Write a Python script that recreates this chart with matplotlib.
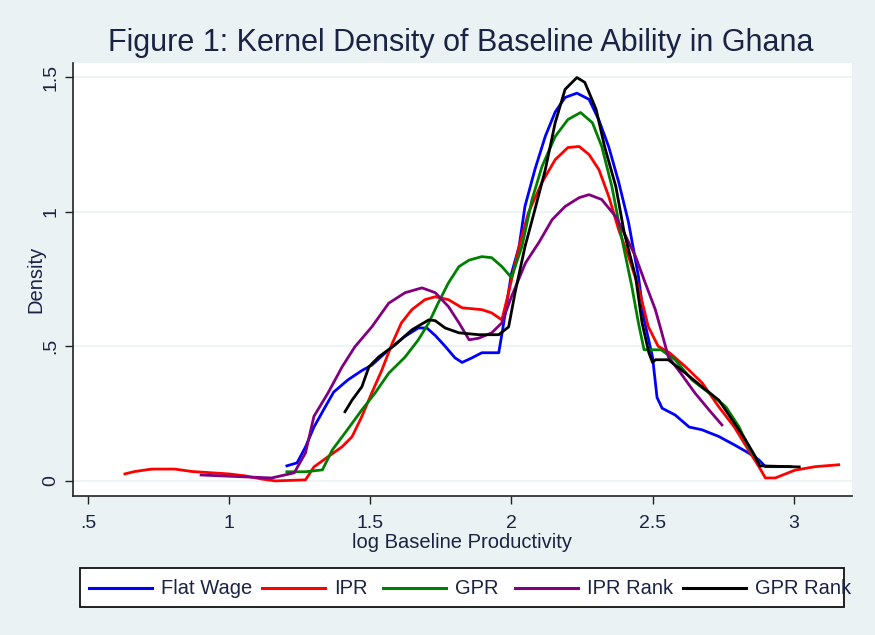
import matplotlib
matplotlib.use('Agg')
import matplotlib.pyplot as plt
from matplotlib.lines import Line2D
from matplotlib.patches import Rectangle

plt.rcParams['font.family'] = ['Liberation Sans', 'DejaVu Sans']

# --- data (log baseline productivity, density) ---
flat_x = [1.204, 1.24, 1.27, 1.30, 1.34, 1.37, 1.42, 1.47, 1.505, 1.565, 1.62, 1.67, 1.70,
          1.73, 1.765, 1.80, 1.825, 1.86, 1.895, 1.955, 1.97, 2.0, 2.027, 2.048, 2.083, 2.12,
          2.155, 2.19, 2.232, 2.275, 2.31, 2.345, 2.38, 2.415, 2.45, 2.47, 2.50, 2.516, 2.534,
          2.58, 2.63, 2.675, 2.735, 2.79, 2.84, 2.877, 2.90, 2.99]
flat_y = [0.056, 0.067, 0.126, 0.20, 0.275, 0.33, 0.375, 0.41, 0.43, 0.487, 0.535, 0.568, 0.568,
          0.54, 0.50, 0.457, 0.44, 0.457, 0.476, 0.476, 0.57, 0.77, 0.87, 1.02, 1.156, 1.28,
          1.37, 1.424, 1.44, 1.417, 1.34, 1.24, 1.11, 0.96, 0.76, 0.60, 0.46, 0.31, 0.27,
          0.245, 0.20, 0.19, 0.165, 0.134, 0.104, 0.078, 0.053, 0.053]

ipr_x = [0.63, 0.665, 0.725, 0.807, 0.867, 0.94, 0.998, 1.055, 1.115, 1.163, 1.27, 1.30, 1.35,
         1.40, 1.435, 1.47, 1.505, 1.54, 1.577, 1.61, 1.647, 1.693, 1.73, 1.777, 1.825, 1.895,
         1.93, 1.966, 1.99, 2.027, 2.06, 2.108, 2.155, 2.20, 2.24, 2.275, 2.31, 2.345, 2.38,
         2.415, 2.45, 2.485, 2.52, 2.56, 2.617, 2.676, 2.735, 2.79, 2.84, 2.877, 2.90, 2.935,
         3.005, 3.077, 3.16]
ipr_y = [0.026, 0.035, 0.044, 0.044, 0.035, 0.03, 0.026, 0.019, 0.007, 0.0, 0.004, 0.052, 0.09,
         0.127, 0.164, 0.24, 0.327, 0.41, 0.51, 0.587, 0.636, 0.673, 0.684, 0.673, 0.643, 0.636,
         0.624, 0.598, 0.70, 0.87, 0.996, 1.108, 1.193, 1.238, 1.242, 1.212, 1.156, 1.056, 0.933,
         0.833, 0.72, 0.573, 0.50, 0.476, 0.424, 0.364, 0.275, 0.20, 0.115, 0.053, 0.011, 0.011,
         0.04, 0.053, 0.06]

gpr_x = [1.204, 1.27, 1.33, 1.365, 1.41, 1.47, 1.517, 1.565, 1.623, 1.67, 1.707, 1.74, 1.777,
         1.814, 1.85, 1.895, 1.93, 1.966, 2.0, 2.037, 2.073, 2.108, 2.155, 2.20, 2.245, 2.287,
         2.32, 2.356, 2.39, 2.427, 2.45, 2.47, 2.53, 2.58, 2.64, 2.70, 2.76, 2.807, 2.84, 2.877]
gpr_y = [0.034, 0.034, 0.041, 0.115, 0.178, 0.264, 0.327, 0.40, 0.46, 0.524, 0.587, 0.66, 0.736,
         0.796, 0.82, 0.833, 0.829, 0.796, 0.755, 0.87, 1.045, 1.167, 1.279, 1.342, 1.368, 1.33,
         1.242, 1.093, 0.907, 0.72, 0.587, 0.487, 0.487, 0.45, 0.375, 0.327, 0.275, 0.20, 0.126,
         0.067]

ipr_rank_x = [0.90, 1.055, 1.15, 1.23, 1.27, 1.30, 1.35, 1.40, 1.445, 1.505, 1.565, 1.623, 1.683,
              1.73, 1.777, 1.814, 1.85, 1.884, 1.93, 1.966, 2.0, 2.05, 2.097, 2.144, 2.19, 2.24,
              2.275, 2.32, 2.37, 2.40, 2.44, 2.47, 2.51, 2.53, 2.556, 2.60, 2.65, 2.70, 2.746]
ipr_rank_y = [0.022, 0.015, 0.011, 0.03, 0.104, 0.24, 0.327, 0.424, 0.498, 0.572, 0.66, 0.699,
              0.717, 0.699, 0.647, 0.587, 0.524, 0.53, 0.55, 0.587, 0.684, 0.81, 0.885, 0.97,
              1.019, 1.052, 1.063, 1.045, 0.981, 0.92, 0.833, 0.747, 0.636, 0.561, 0.461, 0.40,
              0.327, 0.264, 0.208]

gpr_rank_x = [1.41, 1.435, 1.47, 1.495, 1.53, 1.587, 1.647, 1.707, 1.73, 1.765, 1.814, 1.884,
              1.955, 1.99, 2.013, 2.048, 2.083, 2.12, 2.155, 2.19, 2.232, 2.26, 2.30, 2.33, 2.37,
              2.40, 2.44, 2.463, 2.487, 2.5, 2.51, 2.556, 2.617, 2.675, 2.735, 2.79, 2.83, 2.865,
              2.88, 3.02]
gpr_rank_y = [0.257, 0.30, 0.35, 0.424, 0.461, 0.505, 0.561, 0.598, 0.595, 0.568, 0.55, 0.543,
              0.543, 0.572, 0.70, 0.87, 1.007, 1.156, 1.33, 1.454, 1.498, 1.48, 1.38, 1.242, 1.093,
              0.92, 0.758, 0.587, 0.476, 0.44, 0.45, 0.45, 0.40, 0.35, 0.30, 0.215, 0.152, 0.089,
              0.056, 0.052]

series_labels = ['Flat Wage', 'IPR', 'GPR', 'IPR Rank', 'GPR Rank']
series_colors = ['#0000ff', '#ff0000', '#008000', '#800080', '#000000']
x_ticks = [0.5, 1, 1.5, 2, 2.5, 3]
x_tick_labels = ['.5', '1', '1.5', '2', '2.5', '3']
y_ticks = [0, 0.5, 1, 1.5]
y_tick_labels = ['0', '.5', '1', '1.5']

bg = '#eaf2f3'
txt = '#1a2344'

fig = plt.figure(figsize=(8.75, 6.35), dpi=100, facecolor=bg)
W, H = 875, 635
# plot region in pixels: left 73, right 852, top 63, bottom 496
ax = fig.add_axes([73 / W, 1 - 496 / H, (852 - 73) / W, (496 - 63) / H])
ax.set_facecolor('white')

all_x = [flat_x, ipr_x, gpr_x, ipr_rank_x, gpr_rank_x]
all_y = [flat_y, ipr_y, gpr_y, ipr_rank_y, gpr_rank_y]
for xs, ys, lab, col in zip(all_x, all_y, series_labels, series_colors):
    ax.plot(xs, ys, color=col, lw=2.0, label=lab, solid_joinstyle='round')

ax.set_xlim(0.446, 3.207)
ax.set_ylim(-0.056, 1.552)
ax.set_xticks(x_ticks)
ax.set_xticklabels(x_tick_labels)
ax.set_yticks(y_ticks)
ax.set_yticklabels(y_tick_labels, rotation=90, va='center')
ax.tick_params(axis='both', direction='out', length=6, width=1, color='#222222',
               labelsize=14, labelcolor=txt, pad=4)
ax.tick_params(axis='x', pad=8)
ax.grid(True, axis='y', color=bg, lw=1.2)
ax.set_axisbelow(True)
for side in ['top', 'right']:
    ax.spines[side].set_visible(False)
for side in ['left', 'bottom']:
    ax.spines[side].set_color('#222222')
    ax.spines[side].set_linewidth(1.2)

ax.set_xlabel('log Baseline Productivity', fontsize=14.5, color=txt, va='center')
ax.xaxis.set_label_coords(0.5, -(543 - 496) / 433)
ax.set_ylabel('Density', fontsize=14.5, color=txt, va='center')
ax.yaxis.set_label_coords(-(73 - 36) / 779, 0.5)
fig.text(461 / W, 1 - 43 / H, 'Figure 1: Kernel Density of Baseline Ability in Ghana',
         ha='center', va='center', fontsize=22, color=txt)

# legend box drawn like Stata's
fig.patches.append(Rectangle((80 / W, 1 - 607 / H), (844 - 80) / W, (607 - 568) / H,
                             transform=fig.transFigure, facecolor='white',
                             edgecolor='#111111', lw=1.3))
handle_starts = [89, 262, 383, 515, 683]
for start, lab, col in zip(handle_starts, series_labels, series_colors):
    yy = 1 - 588 / H
    fig.lines.append(Line2D([start / W, (start + 63) / W], [yy, yy], transform=fig.transFigure,
                            color=col, lw=2.2))
    fig.text((start + 72) / W, yy, lab, ha='left', va='center', fontsize=14.5, color=txt)

fig.savefig('out.png', dpi=100, facecolor=bg)
